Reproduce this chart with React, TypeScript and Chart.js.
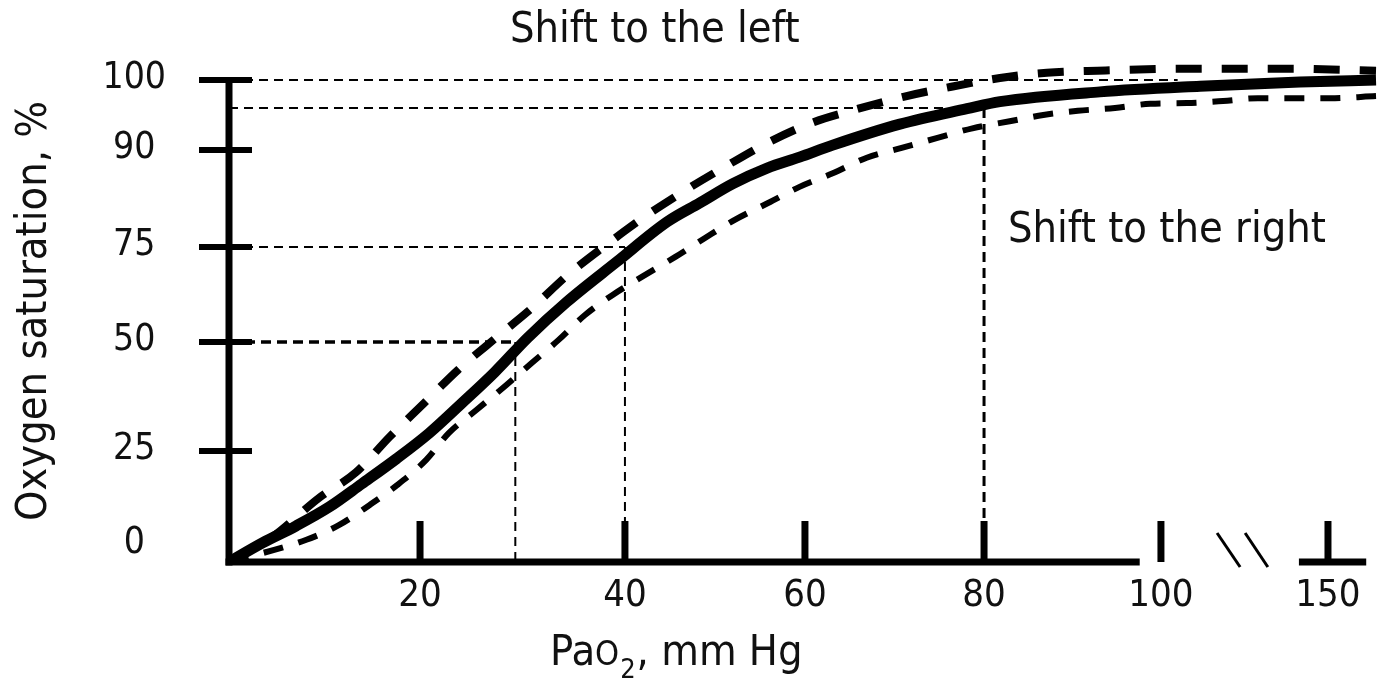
import React, { useEffect, useRef } from 'react';
import { Chart, registerables, LinearScale } from 'chart.js';

Chart.register(...registerables);

const FONT = '"DejaVu Sans Condensed", "DejaVu Sans", sans-serif';
const INK = '#111';

// ---- axis layout of the hand-drawn figure (value -> fraction of axis length)
const AXIS_STOPS: Record<string, { values: number[]; fractions: number[] }> = {
  x: {
    values: [0, 20, 40, 60, 80, 100, 150, 165],
    fractions: [0, 0.1664, 0.3449, 0.5017, 0.6577, 0.8118, 0.9573, 1],
  },
  y: {
    values: [0, 25, 50, 75, 90, 100, 103],
    fractions: [0, 0.2211, 0.4382, 0.6275, 0.8207, 0.9602, 1],
  },
};
// the "0" label of the original sits above the x axis line
const Y_ZERO_LABEL_LIFT = 17;

// ---- tick labels
const X_TICKS = [20, 40, 60, 80, 100, 150];
const Y_TICKS = [0, 25, 50, 75, 90, 100];

// ---- normal curve (solid)
const normalPao2 = [0, 3.5, 7.0, 10.5, 13.9, 17.5, 20.9, 24.1, 27.3, 30.5, 34.3, 39.2, 44.7, 48.3, 52.0, 55.8, 59.4, 63.1, 70.6, 78.1, 81.8, 93.1, 111.7, 141.6, 164.7];
const normalSat = [0, 4.3, 8.1, 12.4, 17.6, 23.2, 29.1, 36.0, 43.1, 51.1, 60.5, 71.1, 78.9, 81.8, 84.8, 87.2, 88.9, 90.7, 93.7, 95.9, 96.9, 98.3, 99.1, 99.7, 100];

// ---- shift to the left (upper dashed)
const leftPao2 = [0, 4.5, 9.4, 13.3, 16.8, 20.4, 23.7, 27.5, 30.9, 34.4, 37.9, 42.0, 46.4, 51.1, 55.8, 60.8, 65.4, 71.0, 76.2, 81.8, 87.1, 92.8, 108.7, 137.7, 164.7];
const leftSat = [0, 5.6, 14.4, 20.2, 28.2, 36.0, 43.6, 51.3, 58.9, 67.6, 75.0, 79.5, 83.5, 87.4, 91.0, 93.9, 95.7, 97.6, 99.0, 100.3, 101.1, 101.4, 101.7, 101.7, 101.4];

// ---- shift to the right (lower dashed)
const rightPao2 = [0, 8.1, 11.5, 14.7, 17.6, 20.6, 22.8, 25.5, 28.4, 30.9, 33.5, 36.1, 38.8, 42.2, 45.6, 48.9, 52.2, 55.9, 59.4, 63.1, 66.9, 70.8, 74.7, 78.7, 82.9, 86.7, 90.6, 94.8, 98.8, 107.8, 118.6, 129.0, 150.6, 164.7];
const rightSat = [0, 5.0, 8.3, 12.8, 17.3, 23.0, 29.1, 34.4, 40.1, 45.2, 50.5, 57.1, 62.4, 67.6, 72.4, 76.4, 79.2, 81.8, 84.3, 86.4, 88.8, 90.3, 91.7, 93.1, 94.1, 95.0, 95.6, 96.0, 96.6, 96.7, 97.0, 97.4, 97.4, 97.7];

// ---- reference (guide) values
const p50 = 29.3;
const pao2At75 = 40;
const pao2At96 = 80;
const sat96 = 96;
const guide100End = 105;

// ---- axis line extents (x axis is broken between 100 and 150)
const X_AXIS_LEFT_END = 97.6;
const X_AXIS_RIGHT_SEG = [141.3, 161.7];
const BREAK_MARKS = [[116.8, 123.7], [125.2, 132.0]];

class PiecewiseScale extends LinearScale {
  static id = 'piecewise';
  static defaults = {};
  getPixelForValue(value: number) {
    if (value === null || value === undefined || isNaN(value)) return NaN;
    const { values: v, fractions: f } = AXIS_STOPS[(this as any).id];
    let i = 1;
    while (i < v.length - 1 && value > v[i]) i++;
    const dec = f[i - 1] + ((value - v[i - 1]) / (v[i] - v[i - 1])) * (f[i] - f[i - 1]);
    return (this as any).getPixelForDecimal(dec);
  }
  getValueForPixel(pixel: number) {
    const dec = (this as any).getDecimalForPixel(pixel);
    const { values: v, fractions: f } = AXIS_STOPS[(this as any).id];
    let i = 1;
    while (i < f.length - 1 && dec > f[i]) i++;
    return v[i - 1] + ((dec - f[i - 1]) / (f[i] - f[i - 1])) * (v[i] - v[i - 1]);
  }
  getPixelForTick(index: number) {
    const p = super.getPixelForTick(index);
    const t = (this as any).ticks[index];
    if ((this as any).id === 'y' && t && t.value === 0) return p - Y_ZERO_LABEL_LIFT;
    return p;
  }
}
Chart.register(PiecewiseScale as any);

const zip = (xs: number[], ys: number[]) => xs.map((x, i) => ({ x, y: ys[i] }));

const guide = (pts: { x: number; y: number }[], width: number, dash: number[]) => ({
  data: pts,
  showLine: true,
  borderColor: '#000',
  borderWidth: width,
  borderDash: dash,
  pointRadius: 0,
  tension: 0,
});

const axesPlugin = {
  id: 'handAxes',
  afterDatasetsDraw(chart: any) {
    const { ctx } = chart;
    const x = chart.scales.x;
    const y = chart.scales.y;
    const x0 = x.getPixelForValue(0);
    const y0 = y.getPixelForValue(0);
    const seg = (a: number, b: number, c: number, d: number) => {
      ctx.beginPath();
      ctx.moveTo(a, b);
      ctx.lineTo(c, d);
      ctx.stroke();
    };
    ctx.save();
    ctx.strokeStyle = '#000';
    ctx.lineCap = 'butt';
    ctx.lineWidth = 7;
    seg(x0, y.getPixelForValue(100) - 3, x0, y0 + 3.5);
    seg(x0 - 3.5, y0, x.getPixelForValue(X_AXIS_LEFT_END), y0);
    seg(x.getPixelForValue(X_AXIS_RIGHT_SEG[0]), y0, x.getPixelForValue(X_AXIS_RIGHT_SEG[1]), y0);
    ctx.lineWidth = 6;
    Y_TICKS.filter((v) => v > 0).forEach((v) => {
      const py = y.getPixelForValue(v);
      seg(x0 - 30, py, x0 + 23, py);
    });
    ctx.lineWidth = 7;
    X_TICKS.forEach((v) => {
      const px = x.getPixelForValue(v);
      seg(px, y0, px, y0 - 41);
    });
    ctx.lineWidth = 3;
    BREAK_MARKS.forEach(([a, b]) => seg(x.getPixelForValue(a), y0 - 29, x.getPixelForValue(b), y0 + 5));
    ctx.restore();
  },
};

const textPlugin = {
  id: 'annotations',
  afterDraw(chart: any) {
    const { ctx } = chart;
    ctx.save();
    ctx.fillStyle = INK;
    ctx.textAlign = 'left';
    ctx.textBaseline = 'alphabetic';
    ctx.font = `43px ${FONT}`;
    ctx.fillText('Shift to the left', 510, 42);
    ctx.fillText('Shift to the right', 1008, 242);
    // x axis title: PaO2, mm Hg
    const base = 665;
    let cx = 550;
    ctx.fillText('Pa', cx, base);
    cx += ctx.measureText('Pa').width;
    ctx.font = `34px ${FONT}`;
    ctx.fillText('O', cx, base);
    cx += ctx.measureText('O').width + 1;
    ctx.font = `27px ${FONT}`;
    ctx.fillText('2', cx, base + 13);
    cx += ctx.measureText('2').width + 1;
    ctx.font = `43px ${FONT}`;
    ctx.fillText(', mm Hg', cx, base);
    ctx.restore();
  },
};

export default function App() {
  const ref = useRef<HTMLCanvasElement | null>(null);
  useEffect(() => {
    if (!ref.current) return;
    const chart = new Chart(ref.current, {
      type: 'scatter',
      data: {
        datasets: [
          {
            data: zip(normalPao2, normalSat),
            showLine: true,
            borderColor: '#000',
            borderWidth: 11,
            pointRadius: 0,
            cubicInterpolationMode: 'monotone',
            borderJoinStyle: 'round',
          },
          {
            data: zip(leftPao2, leftSat),
            showLine: true,
            borderColor: '#000',
            borderWidth: 8,
            borderDash: [26, 20],
            pointRadius: 0,
            cubicInterpolationMode: 'monotone',
          },
          {
            data: zip(rightPao2, rightSat),
            showLine: true,
            borderColor: '#000',
            borderWidth: 6,
            borderDash: [20, 16],
            pointRadius: 0,
            cubicInterpolationMode: 'monotone',
          },
          guide([{ x: 0, y: 100 }, { x: guide100End, y: 100 }], 2, [9, 6]),
          guide([{ x: 0, y: sat96 }, { x: pao2At96, y: sat96 }], 2, [9, 6]),
          guide([{ x: pao2At96, y: sat96 }, { x: pao2At96, y: 0 }], 3, [10, 6]),
          guide([{ x: 0, y: 75 }, { x: pao2At75, y: 75 }], 2, [9, 6]),
          guide([{ x: pao2At75, y: 75 }, { x: pao2At75, y: 0 }], 2, [9, 6]),
          guide([{ x: 0, y: 50 }, { x: p50, y: 50 }], 3.5, [10, 6]),
          guide([{ x: p50, y: 50 }, { x: p50, y: 0 }], 2, [9, 6]),
        ] as any,
      },
      options: {
        animation: false,
        responsive: true,
        maintainAspectRatio: false,
        layout: { padding: { top: 60, right: 0, left: 0, bottom: 0 } },
        plugins: {
          legend: { display: false },
          tooltip: { enabled: false },
          title: { display: false },
        },
        scales: {
          x: {
            type: 'piecewise' as any,
            min: 0,
            max: 165,
            afterBuildTicks: (s: any) => {
              s.ticks = X_TICKS.map((v) => ({ value: v }));
            },
            afterFit: (s: any) => {
              s.height = 119;
              s.paddingLeft = 0;
              s.paddingRight = 0;
              s.paddingTop = 0;
              s.paddingBottom = 0;
            },
            grid: { display: false, drawTicks: false },
            border: { display: false },
            ticks: {
              autoSkip: false,
              maxRotation: 0,
              padding: 11,
              color: INK,
              font: { family: FONT, size: 38 },
              callback: (v: any) => String(v),
            },
          },
          y: {
            type: 'piecewise' as any,
            min: 0,
            max: 103,
            afterBuildTicks: (s: any) => {
              s.ticks = Y_TICKS.map((v) => ({ value: v }));
            },
            afterFit: (s: any) => {
              s.width = 229;
              s.paddingLeft = 0;
              s.paddingRight = 0;
              s.paddingTop = 0;
              s.paddingBottom = 0;
            },
            grid: { display: false, drawTicks: false },
            border: { display: false },
            ticks: {
              autoSkip: false,
              crossAlign: 'center',
              padding: 63,
              color: INK,
              font: { family: FONT, size: 37 },
              labelOffset: -2,
              callback: (v: any) => String(v),
            },
            title: {
              display: true,
              text: 'Oxygen saturation, %',
              color: INK,
              font: { family: FONT, size: 43 },
              padding: { top: 9, bottom: 0 },
            },
          },
        } as any,
      },
      plugins: [axesPlugin, textPlugin],
    });
    return () => chart.destroy();
  }, []);
  return (
    <div style={{ position: 'fixed', left: 0, top: 0, width: 1377, height: 681, background: '#fff' }}>
      <canvas ref={ref} />
    </div>
  );
}
